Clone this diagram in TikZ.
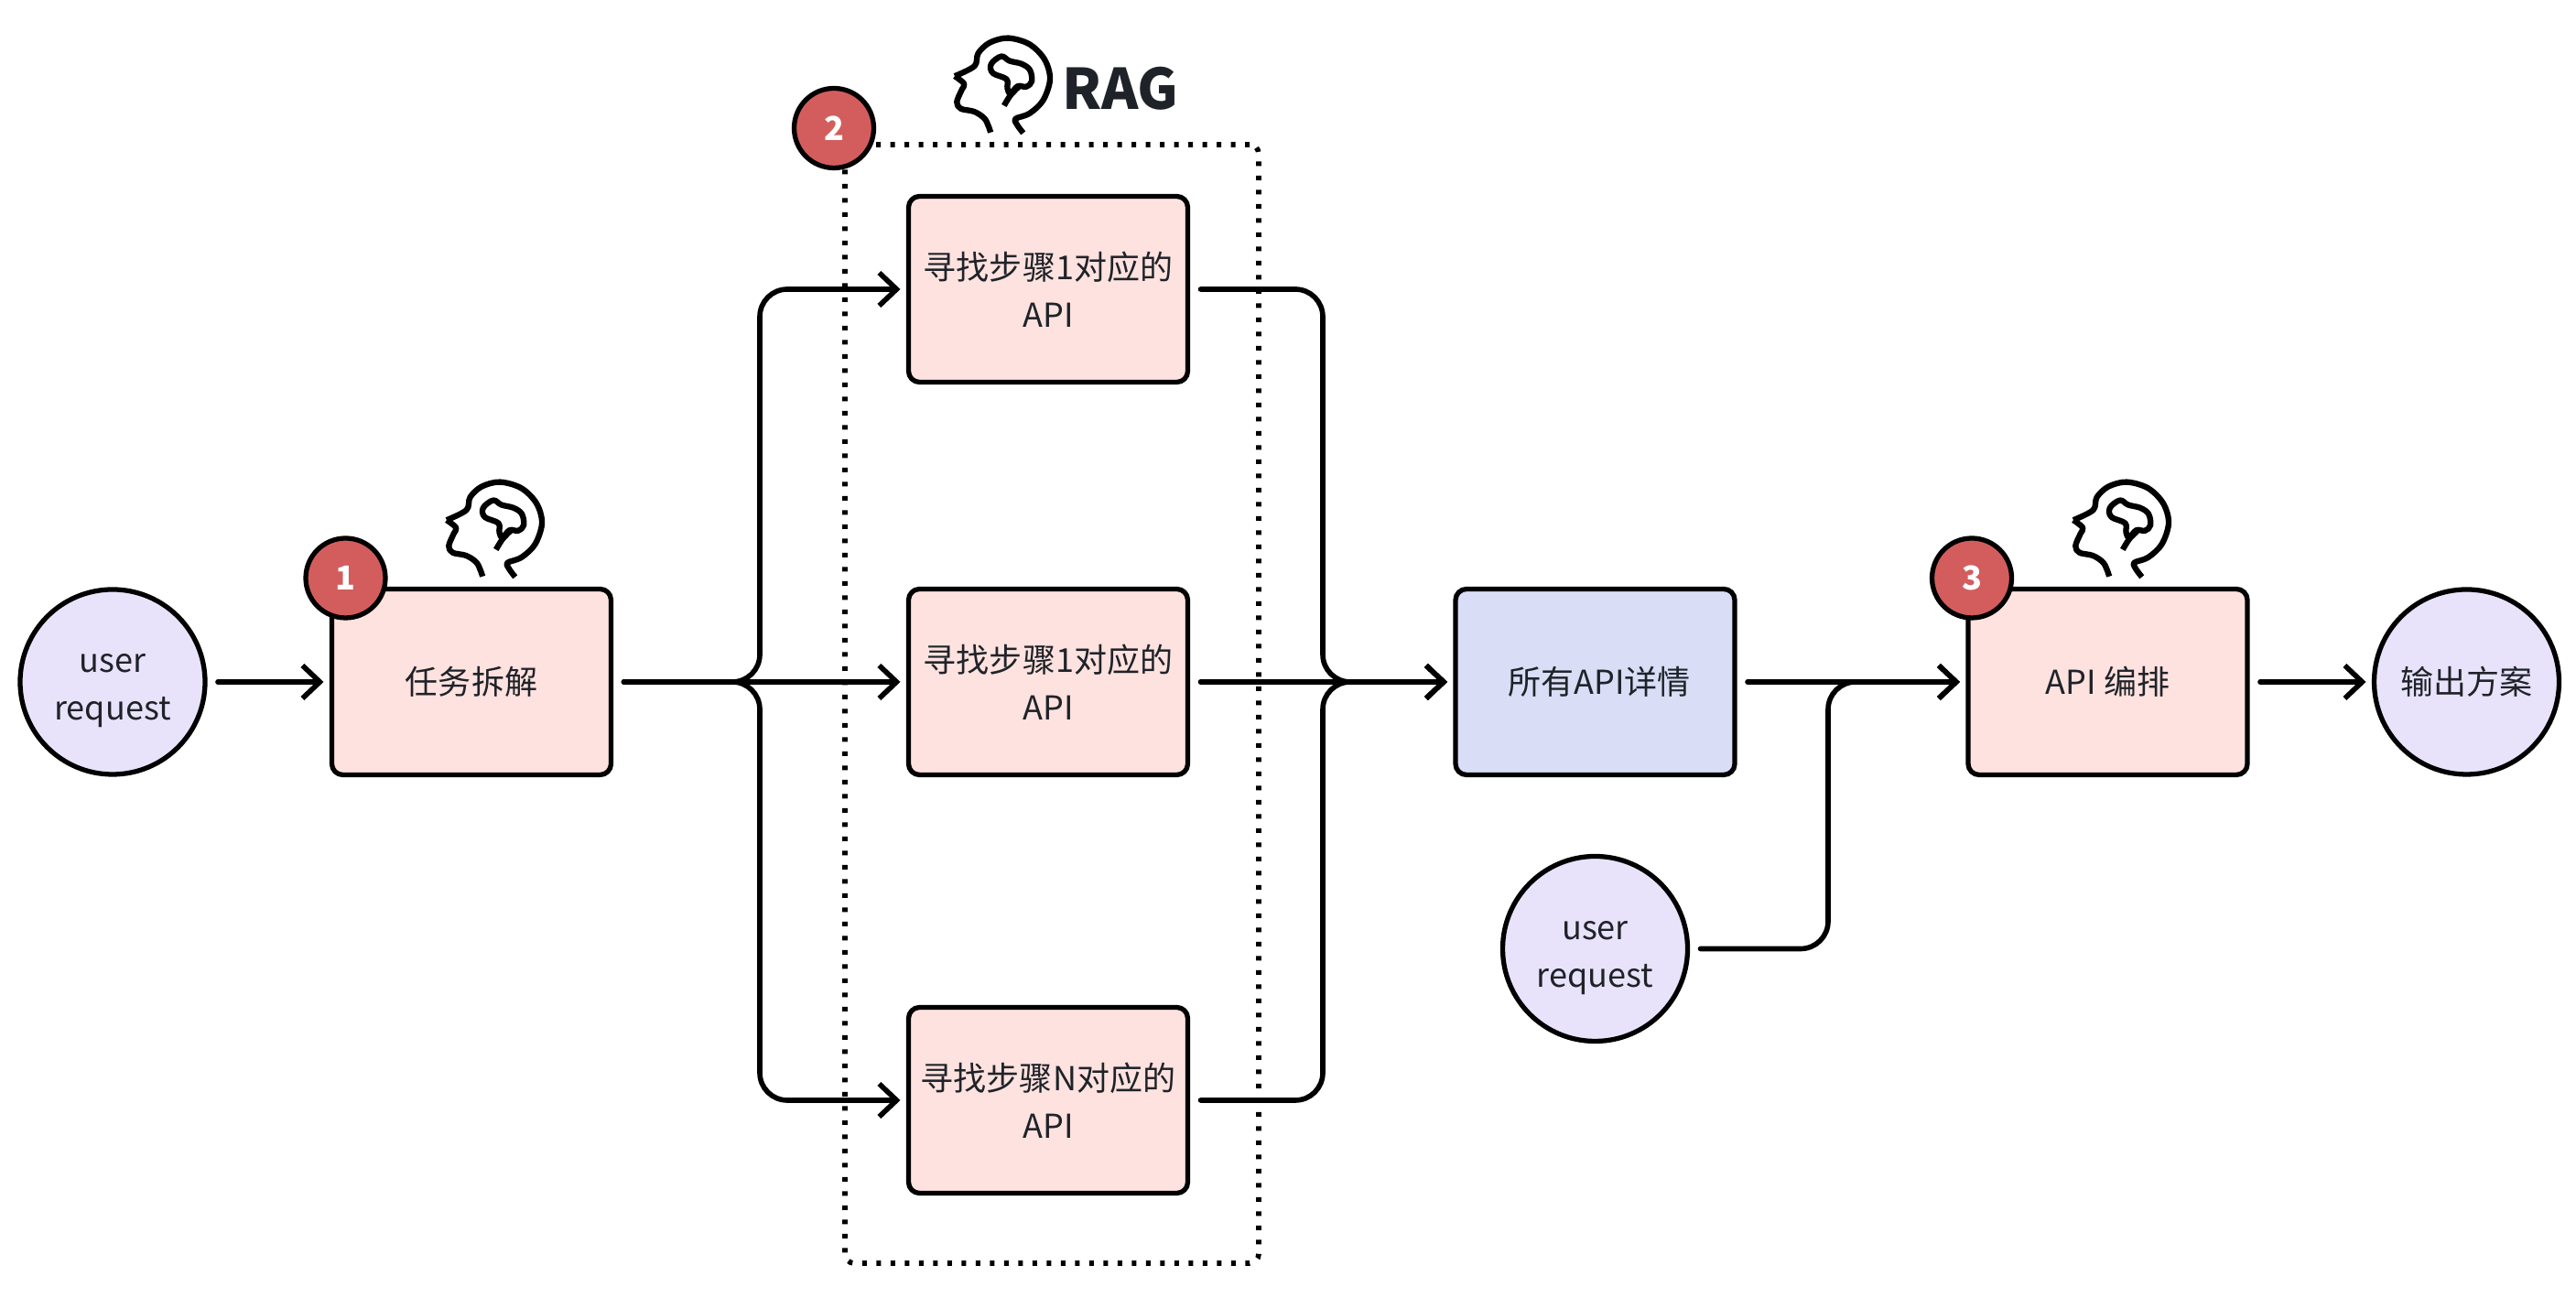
\documentclass[tikz,border=0pt]{standalone}
\usepackage{fontspec}
\setmainfont{Noto Sans CJK SC}
\usetikzlibrary{arrows.meta, positioning}
\definecolor{inkdark}{HTML}{1F2329}
\definecolor{boxpink}{HTML}{FEE2DF}
\definecolor{boxblue}{HTML}{D9DDF5}
\definecolor{circlepurple}{HTML}{E8E3FB}
\definecolor{badgered}{HTML}{D35D5D}
\newcommand{\userreq}{\rule{0pt}{11.4pt}user\\request}

\tikzset{
    headicon/.pic={
        \begin{scope}[x=0.00333cm, y=-0.00333cm, line width=1.8pt, line cap=butt, line join=round]
            \draw plot[smooth, tension=0.55] coordinates {(683,390) (665,347) (630,322) (585,312) (572,290) (588,250) (596,230) (565,205)};
            \draw plot[smooth, tension=0.55] coordinates {(565,205) (630,172) (642,130) (680,95) (740,80) (810,100) (860,150) (878,215) (855,285) (810,328) (765,345) (770,365) (790,392)};
            \draw plot[smooth cycle, tension=0.6] coordinates {(718,140) (685,165) (690,195) (735,215) (738,245) (748,262) (772,238) (800,240) (818,222) (812,185) (785,165) (745,155)};
            \draw plot[smooth, tension=0.5] coordinates {(775,240) (748,268) (727,302)};
        \end{scope}
    }
}

\begin{document}
\begin{tikzpicture}[
        basefont/.style={font=\fontsize{10.25}{14.8}\selectfont, text=inkdark, align=center},
        box/.style={basefont, rectangle, draw, line width=1.5pt, rounded corners=0.12cm, outer sep=0, inner sep=0, minimum width=3.05cm, minimum height=2.03cm},
        taskbox/.style={box, fill=boxpink},
        infobox/.style={box, fill=boxblue},
        round/.style={basefont, circle, draw, line width=1.5pt, fill=circlepurple, outer sep=0, inner sep=0, minimum size=2.02cm},
        badge/.style={circle, draw, line width=1.5pt, fill=badgered, text=white, outer sep=0, inner sep=0, minimum size=0.87cm, font=\fontsize{10.25}{12}\bfseries\selectfont},
        ragbox/.style={rectangle, draw, line width=1.6pt, dash pattern=on 0.05cm off 0.105cm, rounded corners=0.1cm, outer sep=0, minimum width=4.52cm, minimum height=12.22cm},
        arrow/.style={-{Straight Barb[length=0.19cm, width=0.36cm]}, line width=1.6pt, line cap=round, rounded corners=0.3cm, shorten >=0.09cm, shorten <=0.14cm}
    ]
    \useasboundingbox (0,0) rectangle (28.14,14.18);

    % RAG group
    \node (rag) [ragbox] at (11.49,6.49) {};

    % Nodes
    \node (req) [round] at (1.23,6.73) {\userreq};
    \node (task) [taskbox, right=1.385cm of req] {任务拆解};
    \node (find2) [taskbox, right=3.25cm of task] {寻找步骤1对应的\\API};
    \node (find1) [taskbox, above=2.26cm of find2] {寻找步骤1对应的\\API};
    \node (find3) [taskbox, below=2.54cm of find2] {寻找步骤N对应的\\API};
    \node (detail) [infobox, right=2.925cm of find2] {\hspace*{0.09cm}所有API详情};
    \node (req2) [round, below=0.89cm of detail] {\userreq};
    \node (api) [taskbox, right=2.55cm of detail] {API 编排};
    \node (plan) [round, right=1.385cm of api] {输出方案};

    % Joints
    \coordinate (split) at (8.30,6.73);
    \coordinate (merge) at (14.45,6.73);
    \coordinate (joint) at (19.97,6.73);

    % Flow
    \draw [arrow] (req) -- (task);
    \draw [arrow] (task) -- (find2);
    \draw [arrow] (task) -- (split) |- (find1);
    \draw [arrow] (task) -- (split) |- (find3);
    \draw [arrow] (find2) -- (detail);
    \draw [arrow] (find1) -| (merge) -- (detail);
    \draw [arrow] (find3) -| (merge) -- (detail);
    \draw [arrow] (detail) -- (api);
    \draw [arrow] (req2) -| (joint) -- (api);
    \draw [arrow] (api) -- (plan);

    % Badges
    \node (badge1) [badge, xshift=0.15cm, yshift=0.12cm] at (task.north west) {1};
    \node (badge2) [badge, xshift=-0.12cm, yshift=0.18cm] at (rag.north west) {2};
    \node (badge3) [badge, xshift=0.04cm, yshift=0.12cm] at (api.north west) {3};

    % Icons
    \pic at (3.00,9.18) {headicon};
    \pic at (8.55,14.03) {headicon};
    \pic at (20.77,9.18) {headicon};
    \node (ragtitle) [font=\fontsize{17.4}{20}\bfseries\selectfont, text=inkdark, inner sep=0] at (12.24,13.21) {RAG};

\end{tikzpicture}
\end{document}
